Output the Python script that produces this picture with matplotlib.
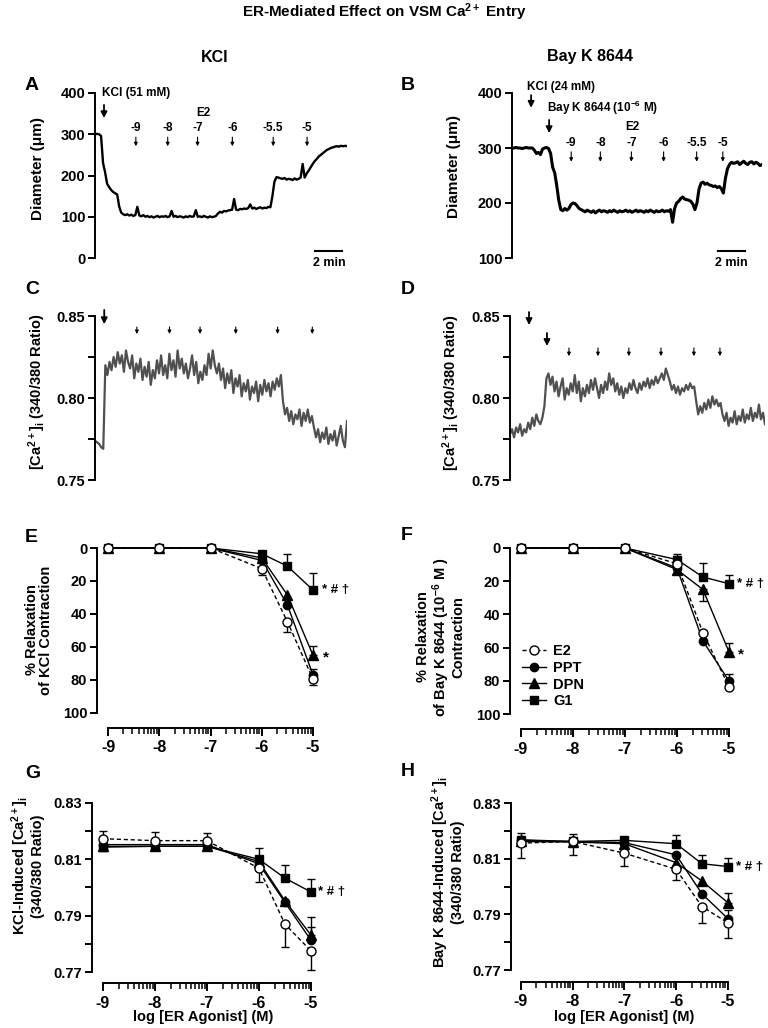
import numpy as np
import matplotlib
matplotlib.use('Agg')
import matplotlib.pyplot as plt
from matplotlib.lines import Line2D

plt.rcParams['font.family'] = ['Liberation Sans', 'DejaVu Sans']
plt.rcParams['font.weight'] = 'bold'
plt.rcParams['mathtext.fontset'] = 'custom'
plt.rcParams['mathtext.rm'] = 'Liberation Sans:bold'
plt.rcParams['mathtext.it'] = 'Liberation Sans:bold'
plt.rcParams['mathtext.bf'] = 'Liberation Sans:bold'
plt.rcParams['mathtext.default'] = 'rm'

# ---- traces (one sample every 0.15 min) ----
dt = 0.15
diam_kcl = [300, 301, 300, 296, 230, 208, 180, 172, 165, 160, 157, 154, 125, 110, 106,
            104, 106, 103, 105, 102, 104, 124,
            103, 101, 104, 100, 102, 99, 101, 98, 100, 102, 99, 101, 100, 102, 99, 101, 114,
            100, 102, 99, 101, 100, 98, 101, 99, 102, 100, 101, 116,
            100, 101, 99, 102, 100, 98, 101, 99, 100, 102,
            108, 112, 110, 114, 113, 115, 116, 117, 143,
            117, 116, 119, 118, 120, 119, 121, 130,
            120, 122, 119, 121, 123, 120, 122, 121, 124, 123,
            150, 185, 196, 195, 193, 192, 194, 190, 192, 191, 189, 193, 190, 192, 195, 228,
            195, 205, 212, 220, 228, 235, 240, 246, 250, 254, 258, 262, 264, 267, 268,
            270, 271, 270, 272, 271, 272, 271]
diam_bay = [300, 300, 301, 300, 300, 299, 300, 301, 300, 300, 300, 296, 290, 292, 288,
            298, 300, 301, 299, 290, 265, 255, 232, 205, 188, 186, 190, 187, 190, 197,
            200, 199, 195, 190, 188,
            186, 184, 187, 185, 183, 186, 182, 185, 187, 184, 186, 185, 183, 186, 184,
            187, 185, 183, 186, 184, 185, 187, 184, 186, 183, 185, 187, 184, 186, 185,
            183, 186, 184, 187, 185, 183, 186, 184, 185, 187, 184, 186, 185,
            188, 165, 190, 200, 203, 208, 211, 207, 206, 205, 203, 198, 188,
            200, 225, 236, 238, 234, 236, 233, 232, 230, 231, 228, 230, 226, 218,
            245, 262, 270, 274, 272, 273, 275, 270, 273, 276, 272, 270, 274, 275, 271,
            274, 272, 268, 270]
ratio_kcl = [0.774, 0.773, 0.772, 0.770, 0.769, 0.820,
             0.814, 0.822, 0.817, 0.825, 0.819, 0.828, 0.821, 0.826, 0.816, 0.829,
             0.822, 0.818, 0.826, 0.812, 0.821, 0.816, 0.824, 0.811, 0.819, 0.813,
             0.822, 0.808, 0.817, 0.812, 0.823, 0.815, 0.826, 0.814, 0.820, 0.812,
             0.827, 0.817, 0.823, 0.813, 0.829, 0.818, 0.824, 0.815, 0.821, 0.812,
             0.818, 0.826, 0.814, 0.822, 0.809, 0.816, 0.811, 0.820, 0.814, 0.827,
             0.818, 0.829, 0.820,
             0.815, 0.821, 0.811, 0.818, 0.806, 0.815, 0.809, 0.817, 0.803, 0.812,
             0.807, 0.814, 0.801, 0.809, 0.804, 0.811, 0.799, 0.807, 0.803, 0.810,
             0.798, 0.808, 0.802, 0.811, 0.804, 0.809, 0.801, 0.810, 0.805, 0.812,
             0.807, 0.814,
             0.798, 0.790,
             0.794, 0.786, 0.792, 0.784, 0.790, 0.787, 0.793, 0.783, 0.791, 0.786,
             0.793, 0.785, 0.789, 0.782,
             0.776, 0.781, 0.773, 0.779, 0.775, 0.782, 0.772, 0.778, 0.774, 0.780,
             0.771, 0.777, 0.783, 0.774, 0.770, 0.786]
ratio_bay = [0.778, 0.781, 0.776, 0.782, 0.779, 0.784, 0.777, 0.781, 0.779,
             0.785, 0.781, 0.788, 0.783, 0.790, 0.786, 0.784, 0.788, 0.795, 0.812,
             0.815, 0.808, 0.813, 0.804, 0.810, 0.801, 0.807, 0.812, 0.799, 0.806,
             0.802, 0.809, 0.804, 0.814, 0.803, 0.810, 0.798, 0.806, 0.801, 0.808,
             0.803, 0.811, 0.805, 0.812,
             0.806, 0.800, 0.808, 0.803, 0.810, 0.805, 0.815, 0.808, 0.812, 0.804,
             0.809, 0.802, 0.807, 0.800, 0.806, 0.803, 0.809, 0.805, 0.811, 0.806,
             0.803, 0.809, 0.805, 0.810, 0.807, 0.812, 0.806, 0.811, 0.808, 0.813,
             0.809, 0.812, 0.815, 0.811, 0.818, 0.814,
             0.810, 0.805, 0.808, 0.803, 0.807, 0.802, 0.806, 0.804, 0.808, 0.805,
             0.809, 0.806, 0.807, 0.798, 0.790,
             0.795, 0.791, 0.797, 0.793, 0.799, 0.794, 0.801, 0.796, 0.799, 0.795,
             0.797, 0.790,
             0.786, 0.791, 0.783, 0.788, 0.785, 0.792, 0.784, 0.789, 0.786, 0.793,
             0.785, 0.790, 0.787, 0.794, 0.786, 0.791, 0.788, 0.796, 0.787, 0.791, 0.784]

# event times (min): first = contracting agent, then E2 doses
kcl_events = [0.67, 3.04, 5.41, 7.63, 10.22, 13.26, 15.78]
bay_events = [1.41, 2.74, 4.37, 6.52, 8.81, 11.19, 13.63, 15.56]
e2_doses = ['-9', '-8', '-7', '-6', '-5.5', '-5']

# ---- concentration-response (mean, signed SEM: + above value, - below) ----
log_conc = [-9, -8, -7, -6, -5.5, -5]
agonists = ['G1', 'DPN', 'PPT', 'E2']

relax_kcl = {'E2': [0, 0, 0, 12.5, 44.7, 79.5], 'PPT': [0, 0, 0, 7.5, 34.5, 77],
             'DPN': [0, 0, 0, 6, 28.5, 65], 'G1': [0, 0, 0, 3.5, 11, 25.5]}
relax_kcl_err = {'E2': [0, 0, 0, 4, 6, 3.5], 'PPT': [0, 0, 0, 0, 0, -3.5],
                 'DPN': [0, 0, 0, 0, 0, -5.5], 'G1': [0, 0, 0, 0, -7.5, -10.5]}
relax_bay = {'E2': [0, 0, 0, 9.5, 51, 83.5], 'PPT': [0, 0, 0, 12, 56, 80],
             'DPN': [0, 0, 0, 13, 25, 62.5], 'G1': [0, 0, 0, 7, 17.5, 21.5]}
relax_bay_err = {'E2': [0, 0, 0, 0, 0, 0], 'PPT': [0, 0, 0, 0, 0, -4],
                 'DPN': [0, 0, 0, 0, 7, -5.5], 'G1': [0, 0, 0, -3.5, -8.5, -5.5]}
ca_kcl = {'E2': [0.8173, 0.8166, 0.8166, 0.8068, 0.7870, 0.7775],
          'PPT': [0.8152, 0.8152, 0.8152, 0.8084, 0.7947, 0.7813],
          'DPN': [0.8146, 0.8146, 0.8146, 0.8092, 0.7953, 0.7831],
          'G1': [0.8143, 0.8146, 0.8146, 0.8100, 0.8033, 0.7984]}
ca_kcl_err = {'E2': [0.0026, 0.0030, 0.0028, -0.005, -0.0083, -0.0067],
              'PPT': [0, 0, 0, 0, 0, 0.0045],
              'DPN': [0, 0, 0, 0, 0, 0.0063],
              'G1': [0, 0, 0, 0.004, 0.0045, 0.0047]}
ca_bay = {'E2': [0.8156, 0.8162, 0.8120, 0.8062, 0.7928, 0.7870],
          'PPT': [0.8166, 0.8162, 0.8158, 0.8114, 0.7974, 0.7885],
          'DPN': [0.8162, 0.8160, 0.8154, 0.8086, 0.8020, 0.7942],
          'G1': [0.8168, 0.8162, 0.8166, 0.8154, 0.8082, 0.8072]}
ca_bay_err = {'E2': [-0.0054, -0.0048, -0.0045, -0.0038, -0.006, -0.0054],
              'PPT': [0, 0, 0, 0, 0, 0.003],
              'DPN': [0, 0, 0, 0, 0, 0.0036],
              'G1': [0.0024, 0.0026, 0, 0.003, 0.0032, 0.0032]}

styles = {'E2': dict(marker='o', ms=6.5, mfc='white', ls=(0, (3, 2))),
          'PPT': dict(marker='o', ms=6, mfc='black', ls='-'),
          'DPN': dict(marker='^', ms=6.5, mfc='black', ls='-'),
          'G1': dict(marker='s', ms=6, mfc='black', ls='-')}

W, H = 768, 1028
fig = plt.figure(figsize=(W / 100, H / 100), dpi=100)


def px_axes(left, top, right, bottom):
    return fig.add_axes([left / W, 1 - bottom / H, (right - left) / W, (bottom - top) / H])


def ftext(x, y, s, **kw):
    fig.text(x / W, 1 - y / H, s, **kw)


def trace_panel(ax, y, color, lw, ylim, ticks, minor=None, fmt='%d'):
    t = np.arange(len(y)) * dt
    ax.plot(t, y, color=color, lw=lw, solid_joinstyle='round')
    ax.set_xlim(0, t[-1])
    ax.set_ylim(*ylim)
    for s in ['top', 'right', 'bottom']:
        ax.spines[s].set_visible(False)
    ax.spines['left'].set_linewidth(1.4)
    ax.set_xticks([])
    ax.set_yticks(ticks)
    ax.set_yticklabels([fmt % v for v in ticks])
    if minor:
        ax.set_yticks(minor, minor=True)
    ax.tick_params(axis='y', which='both', direction='out', length=5, width=1.4, labelsize=10.5, pad=2)


def arrow(ax, x, y0, y1, big=False):
    ax.annotate('', xy=(x, y1), xytext=(x, y0), annotation_clip=False,
                arrowprops=dict(arrowstyle='-|>', color='k', lw=1.3 if big else 0.8,
                                mutation_scale=9 if big else 5, shrinkA=0, shrinkB=0))


def dose_panel(ax, data, errs, ylim, xlim, ybounds, yticks, yminor=None, fmt='%d'):
    for name in agonists:
        st = styles[name]
        y = data[name]
        ax.plot(log_conc, y, color='k', lw=1, ls=st['ls'], marker=st['marker'], ms=st['ms'],
                mfc=st['mfc'], mec='k', mew=1, zorder=3, clip_on=False)
        ex = [x for x, e in zip(log_conc, errs[name]) if e != 0]
        ey = [v for v, e in zip(y, errs[name]) if e != 0]
        lo = [max(-e, 0) for e in errs[name] if e != 0]
        hi = [max(e, 0) for e in errs[name] if e != 0]
        if ex:
            ax.errorbar(ex, ey, yerr=[lo, hi], fmt='none', ecolor='k', elinewidth=1,
                        capsize=3, capthick=1, zorder=2, clip_on=False)
    ax.set_xlim(*xlim)
    ax.set_ylim(*ylim)
    for s in ['top', 'right']:
        ax.spines[s].set_visible(False)
    ax.spines['left'].set_bounds(*ybounds)
    ax.spines['bottom'].set_bounds(-9, -5)
    ax.spines['left'].set_linewidth(1.4)
    ax.spines['bottom'].set_linewidth(1.4)
    ax.set_xticks(log_conc[:4] + [-5])
    ax.set_xticklabels(['-9', '-8', '-7', '-6', '-5'])
    ax.set_xticks([d + np.log10(k) for d in range(-9, -5) for k in range(2, 10)], minor=True)
    ax.set_yticks(yticks)
    ax.set_yticklabels([fmt % v for v in yticks])
    if yminor:
        ax.set_yticks(yminor, minor=True)
    ax.tick_params(axis='x', which='major', direction='out', length=6, width=1.4, labelsize=11.5, pad=3)
    ax.tick_params(axis='x', which='minor', direction='out', length=4, width=1.1)
    ax.tick_params(axis='y', which='both', direction='out', length=5, width=1.4, labelsize=10.5, pad=2)


# ---- A ----
axA = px_axes(95, 93, 347, 258)
trace_panel(axA, diam_kcl, 'black', 1.7, (0, 400), [0, 100, 200, 300, 400])
axA.text(0.55, 401, 'KCl (51 mM)', fontsize=8.5, ha='left', va='center')
arrow(axA, kcl_events[0], 371, 339, big=True)
axA.text(8.05, 352, 'E2', fontsize=8.5, ha='center', va='center')
for t, lab in zip(kcl_events[1:], e2_doses):
    axA.text(t, 315, lab, fontsize=8.5, ha='center', va='center')
    arrow(axA, t, 293, 271)
axA.plot([16.37, 18.37], [17, 17], color='k', lw=1.5, clip_on=False)
axA.text(17.4, -12, '2 min', fontsize=9, ha='center', va='center')

# ---- B ----
axB = px_axes(512, 93, 762, 258)
trace_panel(axB, diam_bay, 'black', 2.2, (100, 400), [100, 200, 300, 400])
axB.text(1.11, 411, 'KCl (24 mM)', fontsize=8.5, ha='left', va='center')
arrow(axB, bay_events[0], 396, 373, big=True)
axB.text(2.55, 373, 'Bay K 8644 (10$^{-6}$ M)', fontsize=8.5, ha='left', va='center')
arrow(axB, bay_events[1], 351, 327, big=True)
axB.text(8.85, 338, 'E2', fontsize=8.5, ha='center', va='center')
for t, lab in zip(bay_events[2:], e2_doses):
    axB.text(t, 309, lab, fontsize=8.5, ha='center', va='center')
    arrow(axB, t, 293, 275)
axB.plot([15.19, 17.19], [113, 113], color='k', lw=1.5, clip_on=False)
axB.text(16.2, 91, '2 min', fontsize=9, ha='center', va='center')

# ---- C ----
axC = px_axes(95, 316, 347, 480)
trace_panel(axC, ratio_kcl, '#505050', 1.6, (0.75, 0.85), [0.75, 0.80, 0.85], [0.775, 0.825], '%.2f')
arrow(axC, kcl_events[0], 0.8537, 0.8450, big=True)
for t in kcl_events[1:]:
    arrow(axC, t, 0.8433, 0.8390)

# ---- D ----
axD = px_axes(510, 316, 765, 480)
trace_panel(axD, ratio_bay, '#505050', 1.6, (0.75, 0.85), [0.75, 0.80, 0.85], [0.775, 0.825], '%.2f')
arrow(axD, bay_events[0], 0.8524, 0.8445, big=True)
arrow(axD, bay_events[1], 0.8396, 0.8317, big=True)
for t in bay_events[2:]:
    arrow(axD, t, 0.8305, 0.8255)

# ---- E ----
axE = px_axes(97, 540, 345, 728)
dose_panel(axE, relax_kcl, relax_kcl_err, (109.1, -4.85), (-9.215, -4.376), (0, 100),
           [0, 20, 40, 60, 80, 100])
axE.text(-4.83, relax_kcl['G1'][-1], '* # \u2020', fontsize=9.5, ha='left', va='center')
axE.text(-4.80, relax_kcl['DPN'][-1] + 1.5, '*', fontsize=11, ha='left', va='center')

# ---- F ----
axF = px_axes(510, 540, 760, 729)
dose_panel(axF, relax_bay, relax_bay_err, (109.0, -4.8), (-9.21, -4.402), (0, 100),
           [0, 20, 40, 60, 80, 100])
axF.text(-4.84, relax_bay['G1'][-1], '* # \u2020', fontsize=9.5, ha='left', va='center')
axF.text(-4.82, relax_bay['DPN'][-1] + 1.5, '*', fontsize=11, ha='left', va='center')
handles = [Line2D([], [], color='k', lw=1, ls=styles[n]['ls'], marker=styles[n]['marker'],
                  ms=styles[n]['ms'], mfc=styles[n]['mfc'], mec='k') for n in agonists[::-1]]
axF.legend(handles, agonists[::-1], loc='lower left', bbox_to_anchor=(0.02, 0.07),
           frameon=False, fontsize=10.5, handlelength=1.6, handletextpad=0.5,
           labelspacing=0.2, borderpad=0)

# ---- G ----
axG = px_axes(92, 795, 345, 983)
dose_panel(axG, ca_kcl, ca_kcl_err, (0.7661, 0.8328), (-9.21, -4.345), (0.77, 0.83),
           [0.77, 0.79, 0.81, 0.83], [0.78, 0.80, 0.82], '%.2f')
axG.text(-4.86, ca_kcl['G1'][-1], '* # \u2020', fontsize=9.5, ha='left', va='center')

# ---- H ----
axH = px_axes(511, 795, 760, 982)
dose_panel(axH, ca_bay, ca_bay_err, (0.7657, 0.8329), (-9.19, -4.378), (0.77, 0.83),
           [0.77, 0.79, 0.81, 0.83], [0.78, 0.80, 0.82], '%.2f')
axH.text(-4.85, ca_bay['G1'][-1], '* # \u2020', fontsize=9.5, ha='left', va='center')

# ---- labels ----
ftext(384, 12, 'ER-Mediated Effect on VSM Ca$^{2+}$ Entry', fontsize=11, ha='center', va='center')
ftext(215, 57, 'KCl', fontsize=11.5, ha='center', va='center')
ftext(590, 57, 'Bay K 8644', fontsize=11.5, ha='center', va='center')
for lab, x, y in [('A', 25, 85), ('B', 401, 85), ('C', 25, 290), ('D', 401, 290),
                  ('E', 25, 538), ('F', 401, 535), ('G', 25, 773), ('H', 401, 771)]:
    ftext(x, y, lab, fontsize=14, ha='left', va='center')

yl = dict(rotation=90, ha='center', va='center', multialignment='center')
ftext(38, 168, 'Diameter (\u03bcm)', fontsize=11, **yl)
ftext(454, 167, 'Diameter (\u03bcm)', fontsize=11, **yl)
ftext(37, 392, '[Ca$^{2+}$]$_{i}$ (340/380 Ratio)', fontsize=10.5, **yl)
ftext(451, 393, '[Ca$^{2+}$]$_{i}$ (340/380 Ratio)', fontsize=10.5, **yl)
ftext(39, 630, '% Relaxation\nof KCl Contraction', fontsize=10.5, linespacing=1.0, **yl)
ftext(441, 637, '% Relaxation\nof Bay K 8644 (10$^{-6}$ M )\nContraction', fontsize=10.5,
      linespacing=1.0, **yl)
ftext(27, 866, 'KCl-Induced [Ca$^{2+}$]$_{i}$\n(340/380 Ratio)', fontsize=10.5, linespacing=1.0, **yl)
ftext(447, 872, 'Bay K 8644-Induced [Ca$^{2+}$]$_{i}$\n(340/380 Ratio)', fontsize=10.5,
      linespacing=1.0, **yl)
ftext(203, 1017, 'log [ER Agonist] (M)', fontsize=10.5, ha='center', va='center')
ftext(624, 1017, 'log [ER Agonist] (M)', fontsize=10.5, ha='center', va='center')

fig.savefig('out.png', dpi=100)
